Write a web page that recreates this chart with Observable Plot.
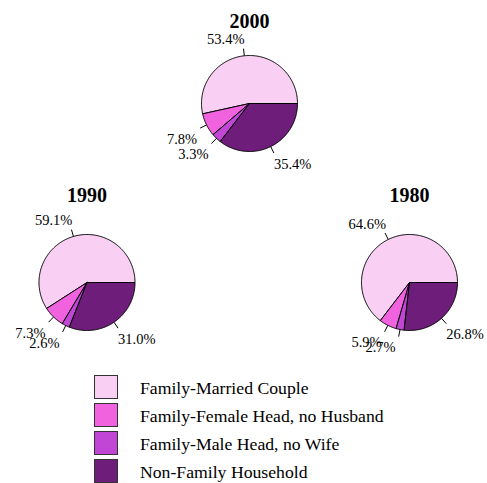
<!DOCTYPE html>
<html>
<head>
<meta charset="utf-8">
<script src="https://cdn.jsdelivr.net/npm/d3@7"></script>
<script src="https://cdn.jsdelivr.net/npm/@observablehq/plot@0.6"></script>
<style>
  body { margin: 0; background: #fff; font-family: "Liberation Serif", "Times New Roman", serif; }
  #chart { width: 487px; height: 483px; position: relative; overflow: hidden; }
  #legend { padding-left: 94px; padding-top: 10px; }
  .row { display: flex; align-items: flex-start; height: 28px; }
  .sw { width: 22px; height: 22px; border: 1px solid #333; box-sizing: content-box; }
  .lab { margin-left: 22px; font-size: 17.7px; line-height: 24px; padding-top: 1px; color: #000; white-space: nowrap; }
</style>
</head>
<body>
<div id="chart"></div>
<script>
const categories = ["Family-Married Couple", "Family-Female Head, no Husband", "Family-Male Head, no Wife", "Non-Family Household"];
const colors = ["#F9D0F4", "#F062DE", "#C246D6", "#6E1E7A"];
const years = ["2000", "1990", "1980"];
const values2000 = [53.4, 7.8, 3.3, 35.4];
const values1990 = [59.1, 7.3, 2.6, 31.0];
const values1980 = [64.6, 5.9, 2.7, 26.8];

const W = 487, H = 365;
const R = 48;
const layout = {
  "2000": {cx: 249, cy: 103, values: values2000},
  "1990": {cx: 86.5, cy: 282, values: values1990},
  "1980": {cx: 409, cy: 282, values: values1980}
};

const polys = [], leaders = [], labels = [], titles = [];
for (const yr of years) {
  const {cx, cy, values} = layout[yr];
  const total = d3.sum(values);
  let a0 = 0;
  titles.push({x: cx, y: cy - R - (yr === "2000" ? 28 : 33), text: yr});
  values.forEach((v, i) => {
    const a1 = a0 + v / total * 2 * Math.PI;
    const id = yr + "-" + i;
    polys.push({id, cat: categories[i], x: cx, y: cy});
    const n = Math.max(2, Math.ceil((a1 - a0) / (Math.PI / 180)));
    for (let k = 0; k <= n; k++) {
      const a = a0 + (a1 - a0) * k / n;
      polys.push({id, cat: categories[i], x: cx + R * Math.cos(a), y: cy - R * Math.sin(a)});
    }
    polys.push({id, cat: categories[i], x: cx, y: cy});
    const am = (a0 + a1) / 2;
    const c = Math.cos(am), s = Math.sin(am);
    const ex = cx + 1.15 * R * c, ey = cy - 1.15 * R * s;
    leaders.push({x1: cx + R * c, y1: cy - R * s, x2: ex, y2: ey});
    labels.push({
      x: ex + (c < 0 ? (s > 0 ? 1 : -3) : 0),
      y: ey + (s > 0 ? -9 : 11),
      text: v.toFixed(1) + "%",
      side: c < 0 ? "left" : "right"
    });
    a0 = a1;
  });
}

const font = "Liberation Serif";
const chart = Plot.plot({
  width: W, height: H,
  marginTop: 0, marginRight: 0, marginBottom: 0, marginLeft: 0,
  x: {domain: [0, W], range: [0, W], axis: null},
  y: {domain: [0, H], range: [0, H], axis: null},
  color: {domain: categories, range: colors},
  style: {fontFamily: font, background: "white"},
  marks: [
    Plot.line(polys, {x: "x", y: "y", z: "id", fill: "cat", stroke: "#000", strokeWidth: 1, curve: "linear", strokeLinejoin: "round"}),
    Plot.link(leaders, {x1: "x1", y1: "y1", x2: "x2", y2: "y2", stroke: "#000", strokeWidth: 1}),
    Plot.text(labels.filter(d => d.side === "left"), {x: "x", y: "y", text: "text", textAnchor: "end", lineAnchor: "middle", fontSize: 14.5, fontFamily: font, fill: "#000"}),
    Plot.text(labels.filter(d => d.side === "right"), {x: "x", y: "y", text: "text", textAnchor: "start", lineAnchor: "middle", fontSize: 14.5, fontFamily: font, fill: "#000"}),
    Plot.text(titles, {x: "x", y: "y", text: "text", lineAnchor: "bottom", fontSize: 20, fontWeight: "bold", fontFamily: font, fill: "#000"})
  ]
});
const host = document.getElementById("chart");
host.appendChild(chart);

const legend = document.createElement("div");
legend.id = "legend";
categories.forEach((c, i) => {
  const row = document.createElement("div");
  row.className = "row";
  const sw = document.createElement("div");
  sw.className = "sw";
  sw.style.background = colors[i];
  const lab = document.createElement("div");
  lab.className = "lab";
  lab.textContent = c;
  row.appendChild(sw);
  row.appendChild(lab);
  legend.appendChild(row);
});
host.appendChild(legend);
</script>
</body>
</html>
